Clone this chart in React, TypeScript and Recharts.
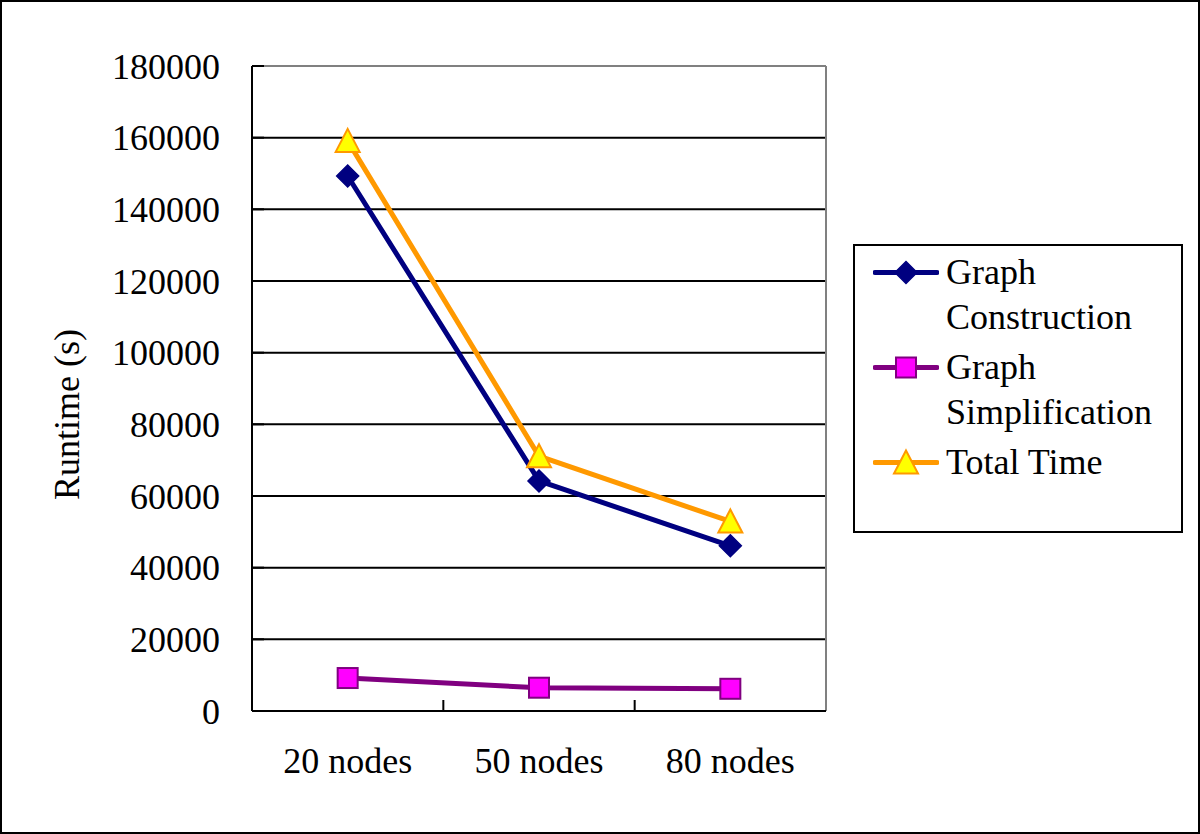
import React from "react";
import {
  LineChart,
  Line,
  XAxis,
  YAxis,
  CartesianGrid,
  Legend,
  ReferenceLine,
} from "recharts";

const CATEGORIES = ["20 nodes", "50 nodes", "80 nodes"];
const CONSTRUCTION = [149300, 64200, 46100];
const SIMPLIFICATION = [9200, 6500, 6200];
const TOTAL = [159100, 71100, 52900];
const Y_TICKS = [0, 20000, 40000, 60000, 80000, 100000, 120000, 140000, 160000, 180000];
// category slots on a numeric axis: boundaries get tick marks, centres get labels
const X_TICKS = [0, 0.5, 1, 1.5, 2, 2.5, 3];

const FONT = '"Liberation Serif", "Times New Roman", serif';

const data = CATEGORIES.map((name, i) => ({
  name,
  pos: i + 0.5,
  construction: CONSTRUCTION[i],
  simplification: SIMPLIFICATION[i],
  total: TOTAL[i],
}));

function Diamond({ cx, cy }: { cx: number; cy: number }) {
  const r = 11;
  return (
    <polygon
      points={`${cx},${cy - r} ${cx + r},${cy} ${cx},${cy + r} ${cx - r},${cy}`}
      fill="#000080"
      stroke="#000080"
      strokeWidth={1.5}
    />
  );
}

function Square({ cx, cy }: { cx: number; cy: number }) {
  return (
    <rect x={cx - 10} y={cy - 10} width={20} height={20} fill="#FF00FF" stroke="#800080" strokeWidth={2} />
  );
}

function Triangle({ cx, cy }: { cx: number; cy: number }) {
  return (
    <polygon
      points={`${cx},${cy - 12} ${cx + 12},${cy + 11} ${cx - 12},${cy + 11}`}
      fill="#FFFF00"
      stroke="#FF9900"
      strokeWidth={2}
    />
  );
}

const SERIES = [
  { key: "construction", name: "Graph Construction", color: "#000080", Marker: Diamond },
  { key: "simplification", name: "Graph Simplification", color: "#800080", Marker: Square },
  { key: "total", name: "Total Time", color: "#FF9900", Marker: Triangle },
];

function XTick(props: any) {
  const { x, y, payload } = props;
  const v = payload.value as number;
  if (Number.isInteger(v)) {
    if (v === 0 || v === 3) return <g />;
    return <line x1={x} x2={x} y1={y} y2={y - 11} stroke="#000" strokeWidth={2} />;
  }
  return (
    <text x={x} y={y + 62} textAnchor="middle" fill="#000" fontSize={36} fontFamily={FONT}>
      {CATEGORIES[Math.floor(v)]}
    </text>
  );
}

function LegendBox() {
  return (
    <div style={{ width: 357, paddingLeft: 27, boxSizing: "border-box" }}>
      <div
        style={{
          width: 330,
          height: 289,
          border: "2px solid #000",
          boxSizing: "border-box",
          padding: "4px 0 0 18px",
          fontSize: 36,
          lineHeight: "45px",
          fontFamily: FONT,
          color: "#000",
          textAlign: "left",
        }}
      >
        {SERIES.map((s) => (
          <div key={s.key} style={{ display: "flex", marginBottom: 5 }}>
            <svg width={66} height={45} style={{ flex: "none" }}>
              <line x1={2} x2={64} y1={22.5} y2={22.5} stroke={s.color} strokeWidth={5} strokeLinecap="round" />
              <s.Marker cx={33} cy={22.5} />
            </svg>
            <div style={{ marginLeft: 7, width: 225 }}>{s.name}</div>
          </div>
        ))}
      </div>
    </div>
  );
}

export default function App() {
  return (
    <div style={{ position: "absolute", left: 0, top: 0, width: 1200, height: 834, background: "#fff" }}>
      <LineChart
        width={1200}
        height={834}
        data={data}
        margin={{ top: 66, right: 17, bottom: 43, left: 0 }}
        style={{ fontFamily: FONT }}
      >
        <CartesianGrid vertical={false} stroke="#000" strokeWidth={2} />
        <XAxis
          type="number"
          dataKey="pos"
          domain={[0, 3]}
          ticks={X_TICKS}
          interval={0}
          height={80}
          tickSize={0}
          tickMargin={0}
          tickLine={false}
          axisLine={{ stroke: "#000", strokeWidth: 2 }}
          tick={<XTick />}
        />
        <YAxis
          type="number"
          domain={[0, 180000]}
          ticks={Y_TICKS}
          interval={0}
          width={252}
          tickSize={-12}
          tickMargin={44}
          axisLine={{ stroke: "#000", strokeWidth: 2 }}
          tickLine={{ stroke: "#000", strokeWidth: 2 }}
          tick={{ fill: "#000", fontSize: 36, fontFamily: FONT }}
          label={{
            content: ({ viewBox }: any) => {
              const cx = viewBox.x + 67;
              const cy = viewBox.y + viewBox.height / 2 + 26;
              return (
                <text
                  x={cx}
                  y={cy}
                  transform={`rotate(-90 ${cx} ${cy})`}
                  textAnchor="middle"
                  dominantBaseline="central"
                  fill="#000"
                  fontSize={36}
                  fontFamily={FONT}
                >
                  Runtime (s)
                </text>
              );
            },
          }}
        />
        <ReferenceLine y={180000} stroke="#808080" strokeWidth={2} />
        <ReferenceLine x={3} stroke="#808080" strokeWidth={2} />
        <Legend
          layout="vertical"
          align="right"
          verticalAlign="top"
          wrapperStyle={{ top: 244, right: 17 }}
          content={<LegendBox />}
        />
        {SERIES.map((s) => (
          <Line
            key={s.key}
            dataKey={s.key}
            name={s.name}
            stroke={s.color}
            strokeWidth={5}
            isAnimationActive={false}
            dot={(p: any) => <s.Marker key={`${s.key}-${p.index}`} cx={p.cx} cy={p.cy} />}
            activeDot={false}
          />
        ))}
      </LineChart>
      <div
        style={{
          position: "absolute",
          left: 0,
          top: 0,
          width: 1200,
          height: 834,
          border: "2px solid #000",
          boxSizing: "border-box",
          pointerEvents: "none",
        }}
      />
    </div>
  );
}
